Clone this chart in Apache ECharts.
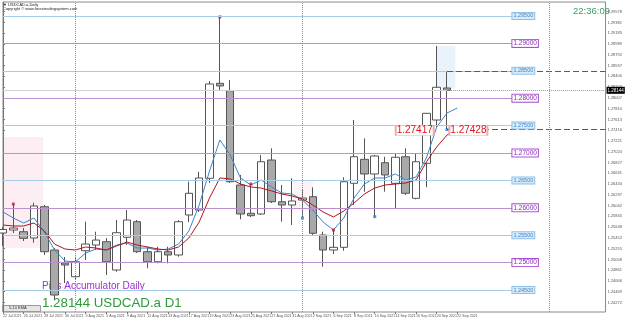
<!DOCTYPE html>
<html><head><meta charset="utf-8">
<script src="https://cdn.jsdelivr.net/npm/echarts@6/dist/echarts.min.js"></script>
<style>html,body{margin:0;padding:0;background:#fff}#c{width:625px;height:321px}</style>
</head><body><div id="c"></div>
<script>
const dates = ['22 Jul 2021','23 Jul 2021','26 Jul 2021','27 Jul 2021','28 Jul 2021','29 Jul 2021','30 Jul 2021',
 '2 Aug 2021','3 Aug 2021','4 Aug 2021','5 Aug 2021','6 Aug 2021','9 Aug 2021','10 Aug 2021','11 Aug 2021','12 Aug 2021','13 Aug 2021',
 '16 Aug 2021','17 Aug 2021','18 Aug 2021','19 Aug 2021','20 Aug 2021','23 Aug 2021','24 Aug 2021','25 Aug 2021','26 Aug 2021','27 Aug 2021',
 '30 Aug 2021','31 Aug 2021','1 Sep 2021','2 Sep 2021','3 Sep 2021','6 Sep 2021','7 Sep 2021','8 Sep 2021','9 Sep 2021','10 Sep 2021',
 '13 Sep 2021','14 Sep 2021','15 Sep 2021','16 Sep 2021','17 Sep 2021','20 Sep 2021','21 Sep 2021','22 Sep 2021'];
const dateTicks = [0,2,4,6,8,10,12,14,16,18,20,22,24,26,28,30,32,34,36,38,40,42,44];
const opens  = [1.25540,1.25595,1.25564,1.25449,1.26020,1.25230,1.24993,1.24743,1.25217,1.25321,1.25381,1.24865,1.25462,1.25746,1.25199,1.25016,1.25199,1.25139,1.25869,1.25960,1.26538,1.28272,1.28137,1.26416,1.25900,1.25887,1.26872,1.26111,1.26051,1.26142,1.26203,1.25504,1.25230,1.25279,1.26447,1.26885,1.26617,1.26823,1.26447,1.26932,1.26173,1.26812,1.27602,1.28186];
const closes = [1.25604,1.25631,1.25443,1.26033,1.25199,1.24409,1.24956,1.25016,1.25339,1.25412,1.25016,1.25546,1.25777,1.25199,1.25016,1.25199,1.25139,1.25746,1.26265,1.26544,1.28259,1.28223,1.26476,1.25887,1.25856,1.26841,1.26111,1.26051,1.26124,1.26179,1.25535,1.25230,1.25279,1.26476,1.26932,1.26617,1.26945,1.26599,1.26922,1.26265,1.26841,1.27724,1.28199,1.28144];
const lows   = [1.25303,1.25540,1.25394,1.25363,1.25139,1.24318,1.24628,1.24683,1.25047,1.25230,1.24774,1.24834,1.25321,1.25175,1.24896,1.24987,1.24987,1.25108,1.25741,1.25923,1.26453,1.28150,1.26453,1.25790,1.25832,1.25869,1.26088,1.25746,1.25686,1.25814,1.25485,1.24925,1.25157,1.25217,1.26051,1.26294,1.25838,1.26294,1.25996,1.26234,1.26155,1.26374,1.27474,1.27428];
const highs  = [1.25650,1.26069,1.25631,1.26093,1.26051,1.25266,1.25102,1.25108,1.25746,1.25564,1.25449,1.25777,1.25960,1.25777,1.25290,1.25290,1.25290,1.25777,1.26476,1.26659,1.28314,1.29482,1.28332,1.26599,1.26434,1.26964,1.27086,1.26416,1.26538,1.26325,1.26374,1.25564,1.25595,1.26557,1.27602,1.27268,1.26964,1.26932,1.26995,1.27086,1.26995,1.27730,1.28953,1.28500];
const ema5  = [1.25923,1.25814,1.25723,1.25814,1.25558,1.25230,1.25029,1.25011,1.25175,1.25248,1.25230,1.25321,1.25358,1.25266,1.25266,1.25230,1.25248,1.25339,1.25577,1.26051,1.26672,1.27237,1.26964,1.26544,1.26416,1.26507,1.26380,1.26270,1.26252,1.26142,1.25960,1.25741,1.25595,1.25814,1.26179,1.26434,1.26544,1.26544,1.26617,1.26507,1.26562,1.26909,1.27474,1.27730,1.27821];
const ema10 = [1.25686,1.25668,1.25668,1.25723,1.25577,1.25339,1.25248,1.25230,1.25285,1.25266,1.25230,1.25303,1.25376,1.25321,1.25285,1.25248,1.25230,1.25285,1.25449,1.25741,1.26179,1.26544,1.26526,1.26434,1.26380,1.26361,1.26307,1.26252,1.26215,1.26161,1.26051,1.25923,1.25832,1.25942,1.26088,1.26252,1.26361,1.26416,1.26434,1.26453,1.26507,1.26836,1.27110,1.27328,1.27450];
const levels = [1.29500,1.29000,1.28500,1.28000,1.27500,1.27000,1.26500,1.26000,1.25500,1.25000,1.24500];
const priceTicks = [1.29578,1.29381,1.29185,1.28989,1.28792,1.28597,1.28400,1.28203,1.28007,1.27810,1.27613,1.27416,1.27221,1.27024,1.26827,1.26631,1.26434,1.26237,1.26042,1.25845,1.25648,1.25452,1.25255,1.25058,1.24861,1.24666,1.24469,1.24272];
const highMarks = [[1,1.26069],[21,1.29482],[24,1.26434],[32,1.25595]];
const lowMarks = [[29,1.25814],[36,1.25838],[43,1.27428]];
const separators = [7,29,52.9];
const bidPrice = 1.28144, dayHigh = 1.28500, dayLow = 1.27428;
const maLabels = ['1.27417','1.27428'];

const FONT = 'Liberation Sans';
const XMIN = 0, XMAX = 58.35, LEVEL_END = 49.33, LAST = 43;

const candles = opens.map((o,i)=>[i,o,closes[i],lows[i],highs[i]]);
const levelLines = levels.map((lv,i)=>{
  const blue = i%2===0;
  return [{coord:[XMIN,lv], lineStyle:{color: blue?'#a6cde6':'#bb8fd0', width:1, type:'solid'},
    label:{show:true, position:'end', distance:0, formatter: lv.toFixed(5), fontFamily:FONT,
      fontSize: blue?5.5:6.5, color: blue?'#3f86c6':'#8a2bc0', backgroundColor: blue?'#d9ebf9':'#ffffff',
      borderColor: blue?'#8fc0e8':'#a552d0', borderWidth:1, padding:[0,1,0,1]}},
    {coord:[LEVEL_END,lv]}];
});
const otherLines = [
  [{coord:[XMIN,bidPrice], lineStyle:{color:'#d2d2d2',width:1,type:'solid'}},{coord:[LAST,bidPrice]}],
  [{coord:[LAST+0.4,bidPrice], lineStyle:{color:'#9a9a9a',width:1,type:'dotted'},
    label:{show:true,position:'end',distance:1,formatter:bidPrice.toFixed(5),fontFamily:FONT,fontSize:4.5,color:'#fff',backgroundColor:'#000',padding:[1,1,1,1]}},{coord:[XMAX,bidPrice]}],
  [{coord:[LAST,dayHigh], lineStyle:{color:'#5a5a5a',width:1,type:[6,3]}},{coord:[XMAX,dayHigh]}],
  [{coord:[LAST,dayLow], lineStyle:{color:'#5a5a5a',width:1,type:[6,3]}},{coord:[XMAX,dayLow]}]
];
const sepLines = separators.map(s=>({xAxis:s, lineStyle:{color:'#8d8d8d',width:1,type:'dotted'}}));

const option = {
  animation:false,
  backgroundColor:'#ffffff',
  textStyle:{fontFamily:FONT},
  grid:{left:2, right:15, top:2, bottom:9, show:true, borderColor:'#8a8a8a', borderWidth:1, backgroundColor:'#ffffff'},
  xAxis:{type:'value', min:XMIN, max:XMAX,
    axisLine:{show:false}, splitLine:{show:false},
    axisTick:{show:true, customValues:dateTicks, length:2, lineStyle:{color:'#777'}},
    axisLabel:{show:true, customValues:dateTicks, formatter:v=>dates[Math.round(v)]||'', align:'left', fontSize:3.6, color:'#555', margin:2}},
  yAxis:{type:'value', position:'right', min:1.24099, max:1.29755, scale:true,
    axisLine:{show:true, lineStyle:{color:'#777'}}, splitLine:{show:false},
    axisTick:{show:true, customValues:priceTicks, length:2, lineStyle:{color:'#777'}},
    axisLabel:{show:true, customValues:priceTicks, formatter:v=>v.toFixed(5), fontSize:4, color:'#555', margin:2}},
  series:[
    {name:'bg', type:'line', data:[], z:1, silent:true,
      markArea:{silent:true, data:[
        [{coord:[0.1,1.27292], itemStyle:{color:'#fdeef3'}},{coord:[3.9,1.25266]}],
        [{coord:[28.1,1.26507], itemStyle:{color:'#fdf2f5'}},{coord:[30.0,1.25960]}],
        [{coord:[42.0,1.28953], itemStyle:{color:'#eaf3fb'}},{coord:[43.8,1.28186]}]
      ]},
      markLine:{silent:true, symbol:['none','none'], label:{show:false},
        data: levelLines.concat(otherLines).concat(sepLines)}},
    {name:'USDCAD.a', type:'candlestick', data:candles, z:2, barWidth:8,
      encode:{x:0, y:[1,2,3,4]},
      itemStyle:{color:'#ffffff', color0:'#a9a9a9', borderColor:'#555555', borderColor0:'#555555', borderWidth:1}},
    {name:'EMA 5', type:'line', data:ema5.map((v,i)=>[i,v]), z:3, showSymbol:false, symbol:'none',
      lineStyle:{color:'#3b87c9', width:1}},
    {name:'EMA 10', type:'line', data:ema10.map((v,i)=>[i,v]), z:3, showSymbol:false, symbol:'none',
      lineStyle:{color:'#b3141f', width:1}},
    {name:'highs', type:'scatter', data:highMarks, z:4, symbol:'rect', symbolSize:3, itemStyle:{color:'#c8143c'}},
    {name:'lows', type:'scatter', data:lowMarks, z:4, symbol:'rect', symbolSize:3, itemStyle:{color:'#1f80d8'},
      markPoint:{silent:true, symbol:'rect', symbolSize:[38,10],
        itemStyle:{color:'#ffffff', borderColor:'#f0a8a8', borderWidth:1},
        label:{show:true, position:'inside', color:'#e0141c', fontSize:10, fontFamily:FONT},
        data:[{coord:[39.87,1.27411], value:maLabels[0], label:{formatter:maLabels[0]}},
              {coord:[45.07,1.27411], value:maLabels[1], label:{formatter:maLabels[1]}}]}}
  ],
  graphic:[
    {type:'text', left:3, top:3, style:{text:'▼ USDCAD.a,Daily', fill:'#222', font:'4px "Liberation Sans"'}},
    {type:'text', left:3, top:7, style:{text:'Copyright © www.forextradingsystem.com', fill:'#222', font:'4px "Liberation Sans"'}},
    {type:'text', left:573, top:6, style:{text:'22:36:09', fill:'#3a9d63', font:'9.5px "Liberation Sans"'}},
    {type:'text', left:42, top:281, style:{text:'Pips Accumulator Daily', fill:'#9932cc', font:'10px "Liberation Sans"'}},
    {type:'text', left:42, top:296.5, style:{text:'1.28144 USDCAD.a D1', fill:'#2e9a3a', font:'13.3px "Liberation Sans"'}},
    {type:'rect', left:2, top:305, shape:{width:38, height:6}, style:{fill:'#e6e6e6', stroke:'#9a9a9a', lineWidth:1}},
    {type:'text', left:9, top:306, style:{text:'5-10 EMA', fill:'#333', font:'4px "Liberation Sans"'}}
  ]
};
const chart = echarts.init(document.getElementById('c'), null, {renderer:'canvas'});
chart.setOption(option);
</script></body></html>
